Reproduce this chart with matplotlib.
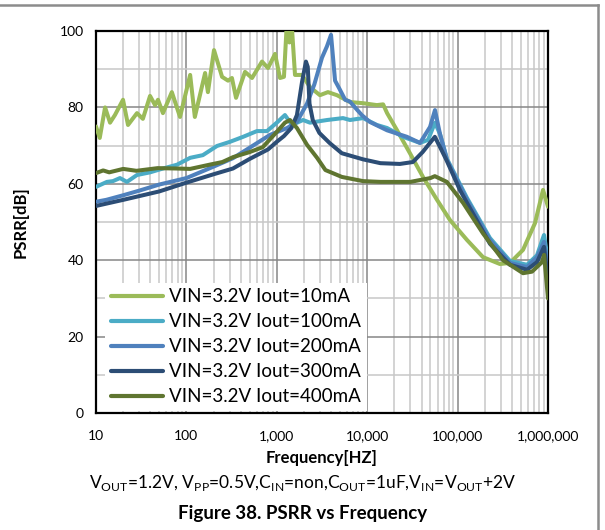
import numpy as np
import matplotlib
matplotlib.use("Agg")
import matplotlib.pyplot as plt
from matplotlib.lines import Line2D
from matplotlib.ticker import FixedLocator, FuncFormatter, NullFormatter

plt.rcParams['font.family'] = ['Lato', 'DejaVu Sans']
plt.rcParams['mathtext.fontset'] = 'custom'
plt.rcParams['mathtext.rm'] = 'Lato'

# ---- data ----
f_10 = [10, 11, 12.6, 14.3, 16.2, 19.9, 22.6, 28.4, 33, 39.6, 45, 48.5, 55, 69, 85,
        110, 124, 161, 173, 202, 248, 289, 319, 354, 445, 532, 686, 800, 956, 1085,
        1200, 1297, 1380, 1450, 1590, 1900, 2330, 3000, 3680, 4630, 6450, 9000,
        12800, 15000, 16600, 21400, 29700, 41400, 59200, 82400, 127000, 191000,
        294000, 380000, 529000, 718000, 881000, 1000000]
db_10 = [75, 72, 80, 76, 78, 82, 75.4, 78.5, 77, 83, 80.6, 82, 78.5, 84, 77.5,
         88.5, 77.5, 89, 84, 95, 88, 87, 87.7, 82.5, 89.3, 87.7, 92, 90.3, 94, 87.7,
         88, 103, 97, 103, 88.5, 88.5, 85.3, 83.2, 84, 83.2, 81.4, 81.1,
         80.6, 80.8, 78.5, 74, 68, 61.8, 55.8, 50.5, 45.3, 40.8,
         39, 39.3, 42.7, 49.7, 58.4, 54]

f_100 = [10, 13.2, 15.4, 18.4, 22, 28.4, 39.6, 55, 78.8, 110, 152, 218, 304, 424,
         603, 779, 1000, 1230, 1473, 1950, 2330, 3600, 5400, 6450, 9000, 12800,
         16600, 24900, 38400, 47100, 56200, 63900, 76400, 127000, 228000, 380000,
         586000, 756000, 903000, 1000000]
db_100 = [59.2, 60.5, 60.7, 61.5, 60.5, 62.3, 63, 64, 65, 66.8, 67.5, 69.9, 71, 72.3,
          73.8, 73.8, 76, 78, 75.4, 76.7, 76, 76.7, 77.2, 76.7, 77.2, 75.4,
          74.6, 72.3, 70.7, 71.5, 76, 73, 66.5, 56.3, 45.8, 39.8,
          38.8, 41.3, 46.6, 40]

f_200 = [10, 13, 20, 30, 50, 100, 200, 327, 505, 841, 1300, 1670, 2160, 2600, 3160,
         3590, 3980, 4410, 4900, 5700, 6460, 7330, 8700, 10700, 16600, 27500,
         38400, 49600, 56200, 63900, 76400, 106000, 127000, 228000, 380000, 586000,
         756000, 903000, 1000000]
db_200 = [55.3, 55.8, 57, 58.2, 59.8, 61.5, 64.5, 66.7, 69.5, 72.8, 74.6, 76.2, 81,
          86, 93, 96, 99, 87, 85, 82, 81.5, 80, 78, 76.2, 74, 72.3,
          70.7, 74.9, 79.3, 73, 66.2, 59.5, 55.8, 45.3, 39.3, 38.2,
          40.8, 44.8, 38]

f_300 = [10, 20, 50, 100, 200, 327, 500, 800, 1000, 1200, 1450, 1670, 1900, 2100,
         2200, 2300, 2500, 2960, 3830, 5240, 9000, 14000, 23000, 32000, 41000,
         56000, 64000, 76000, 106000, 127000, 228000, 380000, 586000, 756000,
         903000, 1000000]
db_300 = [54.2, 55.8, 58, 60.3, 62.5, 64, 66.5, 69, 71, 72.5, 74.6, 78, 86.6, 92,
          90.6, 81, 76.7, 73.3, 70.7, 68, 66.4, 65.4, 65.2, 65.7, 68.3,
          72.3, 69.6, 66, 58.4, 55, 44.3, 38.8, 37.5, 39.5,
          43.5, 35]

f_400 = [10, 12, 14, 20, 28, 48, 79, 110, 180, 250, 330, 500, 700, 1000, 1230,
         1400, 1670, 2160, 2790, 3450, 5240, 9000, 14000, 30000, 50000, 56000,
         76000, 115000, 191000, 318000, 529000, 665000, 859000, 905000, 1000000]
db_400 = [62.8, 63.5, 63, 63.9, 63.4, 64.1, 64, 63.9, 65, 65.7, 67, 68.3, 69.6, 73.6,
          76, 76.7, 74.6, 70.2, 66.8, 63.6, 61.8, 60.7, 60.5, 60.5, 61.5, 62,
          60.5, 55, 47, 40, 36.6, 37, 39.5, 41.4, 30]

labels = ["VIN=3.2V Iout=10mA", "VIN=3.2V Iout=100mA", "VIN=3.2V Iout=200mA",
          "VIN=3.2V Iout=300mA", "VIN=3.2V Iout=400mA"]
colors = ["#9BBB59", "#4BACC6", "#4F81BD", "#2C4D75", "#5F7530"]
series = [(f_10, db_10), (f_100, db_100), (f_200, db_200), (f_300, db_300), (f_400, db_400)]

fig = plt.figure(figsize=(6.05, 5.30), dpi=100)
ax = fig.add_axes([96 / 605, 117 / 530, 452 / 605, 382 / 530])

for (f, db), c, lab in zip(series, colors, labels):
    ax.plot(f, db, color=c, lw=2.9, label=lab, solid_capstyle='round',
            solid_joinstyle='round', zorder=3)

ax.set_xscale('log')
ax.set_xlim(10, 1e6)
ax.set_ylim(0, 100)

# gridlines
ax.xaxis.set_major_locator(FixedLocator([1e1, 1e2, 1e3, 1e4, 1e5, 1e6]))
ax.xaxis.set_minor_locator(FixedLocator([m * 10 ** e for e in range(1, 6) for m in range(2, 10)]))
ax.xaxis.set_major_formatter(FuncFormatter(lambda v, p: f"{int(round(v)):,}"))
ax.xaxis.set_minor_formatter(NullFormatter())
ax.yaxis.set_major_locator(FixedLocator([0, 20, 40, 60, 80, 100]))
ax.yaxis.set_minor_locator(FixedLocator([10, 30, 50, 70, 90]))
ax.grid(which='major', color='#868686', lw=1.1, zorder=1)
ax.grid(which='minor', color='#c8c8c8', lw=1.1, zorder=1)
ax.set_axisbelow(True)
ax.tick_params(which='both', length=0, labelsize=10)
ax.tick_params(axis='x', pad=12)
ax.tick_params(axis='y', pad=9)
for s in ax.spines.values():
    s.set_color('black')
    s.set_linewidth(1.6)

ax.set_xlabel("Frequency[HZ]", fontsize=12, fontweight='bold', labelpad=6)
ax.set_ylabel("PSRR[dB]", fontsize=12, fontweight='bold', labelpad=22)

leg = ax.legend(loc='lower left', bbox_to_anchor=(0.016, 0.0), frameon=True,
                fontsize=13.5, handlelength=2.8, handletextpad=0.32,
                labelspacing=0.43, borderpad=0.3, borderaxespad=0.1)
leg.get_frame().set_edgecolor('none')
leg.get_frame().set_facecolor('white')
leg.get_frame().set_alpha(1)
leg.get_frame().set_boxstyle('square', pad=0)
for h in leg.get_lines():
    h.set_linewidth(3)

fig.text(0.5, 1 - 483 / 530,
         r"V$_{\mathrm{OUT}}$=1.2V, V$_{\mathrm{PP}}$=0.5V,C$_{\mathrm{IN}}$=non,"
         r"C$_{\mathrm{OUT}}$=1uF,V$_{\mathrm{IN}}$=V$_{\mathrm{OUT}}$+2V",
         ha='center', va='center', fontsize=12.5)
fig.text(0.5, 1 - 513 / 530, "Figure 38. PSRR vs Frequency",
         ha='center', va='center', fontsize=13.5, fontweight='bold')

# outer frame (top and right edges visible)
fig.add_artist(Line2D([0, 598 / 605], [1 - 5 / 530, 1 - 5 / 530], color='#8c8c8c', lw=1.8,
                      transform=fig.transFigure))
fig.add_artist(Line2D([598 / 605, 598 / 605], [0, 1 - 5 / 530], color='#8c8c8c', lw=1.8,
                      transform=fig.transFigure))

fig.savefig("out.png", dpi=100)
